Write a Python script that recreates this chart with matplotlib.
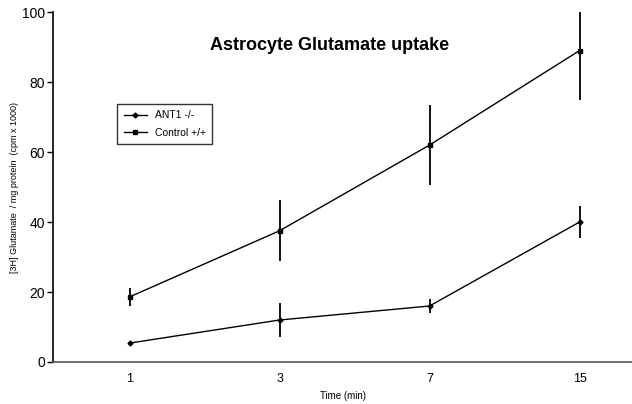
import matplotlib
matplotlib.use("Agg")
import matplotlib.pyplot as plt
from matplotlib.lines import Line2D
import numpy as np

plt.rcParams['font.family'] = ['Liberation Sans', 'DejaVu Sans']

times = ['1', '3', '7', '15']
ant1 = [5.4, 12.0, 16.0, 40.0]
ant1_err = [0.5, 5.0, 2.0, 4.5]
control = [18.6, 37.5, 62.0, 89.0]
control_err = [2.5, 8.7, 11.5, 14.0]

x = np.arange(len(times))

fig = plt.figure(figsize=(6.32, 4.04), dpi=100)
ax = fig.add_axes([0.084, 0.104, 0.916, 0.866])

ax.errorbar(x, ant1, yerr=ant1_err, color='black', lw=1.0, marker='D', ms=2.5,
            elinewidth=1.3, capsize=0)
ax.errorbar(x, control, yerr=control_err, color='black', lw=1.0, marker='s', ms=3,
            elinewidth=1.3, capsize=0)

ax.set_xlim(-0.51, 3.35)
ax.set_ylim(0, 100)
ax.set_xticks(x)
ax.set_xticklabels(times, fontsize=9)
ax.set_yticks([0, 20, 40, 60, 80, 100])
ax.tick_params(axis='y', labelsize=10, length=4, width=1, pad=2)
ax.tick_params(axis='x', length=0, pad=8)
ax.spines['top'].set_visible(False)
ax.spines['right'].set_visible(False)
ax.spines['left'].set_linewidth(1.2)
ax.spines['bottom'].set_linewidth(1.2)
ax.spines['bottom'].set_color('#555555')

ax.set_xlabel('Time (min)', fontsize=7, labelpad=4)
ax.set_ylabel('[3H] Glutamate  / mg protein  (cpm x 1000)', fontsize=6.5, labelpad=2)

ax.text(0.478, 0.905, 'Astrocyte Glutamate uptake', transform=ax.transAxes,
        fontsize=13, fontweight='bold', ha='center', va='center')

handles = [Line2D([], [], color='black', lw=1.0, marker='D', ms=2.5),
           Line2D([], [], color='black', lw=1.0, marker='s', ms=3)]
leg = ax.legend(handles, ['ANT1 -/-', 'Control +/+'], loc='upper left',
                bbox_to_anchor=(0.102, 0.752), fontsize=7.5,
                frameon=True, fancybox=False, edgecolor='black',
                handlelength=2.2, borderpad=0.6, labelspacing=0.7)
leg.get_frame().set_linewidth(1.0)

fig.savefig('out.png', dpi=100)
